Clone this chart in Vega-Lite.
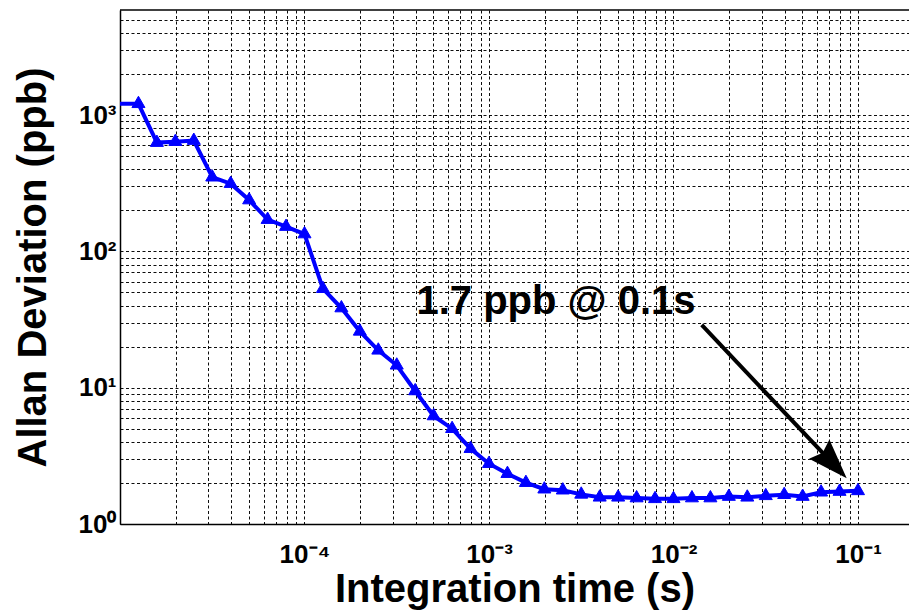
{
  "$schema": "https://vega.github.io/schema/vega-lite/v6.json",
  "width": 789,
  "height": 514,
  "autosize": {"type": "none"},
  "padding": {"left": 120, "top": 10, "right": 0, "bottom": 88},
  "background": "white",
  "config": {
    "view": {"stroke": null},
    "font": "Liberation Sans",
    "axis": {
      "labelFont": "Liberation Sans",
      "labelFontWeight": "bold",
      "labelFontSize": 26,
      "labelColor": "black",
      "labelOverlap": false,
      "labelFlush": false,
      "ticks": false,
      "domainColor": "black",
      "domainWidth": 1.5,
      "grid": true,
      "gridColor": "black",
      "gridDash": [3, 2.5],
      "gridWidth": 1,
      "gridOpacity": 0.95,
      "titleFont": "Liberation Sans",
      "titleFontWeight": "bold",
      "titleFontSize": 40,
      "titleColor": "black"
    }
  },
  "datasets": {
    "adev": [
      {"tau": 0.00001, "adev": 1210},
      {"tau": 0.000012589, "adev": 1210},
      {"tau": 0.000015849, "adev": 628},
      {"tau": 0.000019953, "adev": 638},
      {"tau": 0.000025119, "adev": 650},
      {"tau": 0.000031623, "adev": 350},
      {"tau": 0.000039811, "adev": 314},
      {"tau": 0.000050119, "adev": 238},
      {"tau": 0.000063096, "adev": 171},
      {"tau": 0.000079433, "adev": 152},
      {"tau": 0.0001, "adev": 134},
      {"tau": 0.00012589, "adev": 53.2},
      {"tau": 0.00015849, "adev": 38.4},
      {"tau": 0.00019953, "adev": 25.9},
      {"tau": 0.00025119, "adev": 18.8},
      {"tau": 0.00031623, "adev": 14.6},
      {"tau": 0.00039811, "adev": 9.46},
      {"tau": 0.00050119, "adev": 6.2},
      {"tau": 0.00063096, "adev": 5.0},
      {"tau": 0.00079433, "adev": 3.57},
      {"tau": 0.001, "adev": 2.77},
      {"tau": 0.0012589, "adev": 2.34},
      {"tau": 0.0015849, "adev": 2.01},
      {"tau": 0.0019953, "adev": 1.8},
      {"tau": 0.0025119, "adev": 1.77},
      {"tau": 0.0031623, "adev": 1.65},
      {"tau": 0.0039811, "adev": 1.57},
      {"tau": 0.0050119, "adev": 1.57},
      {"tau": 0.0063096, "adev": 1.55},
      {"tau": 0.0079433, "adev": 1.53},
      {"tau": 0.01, "adev": 1.53},
      {"tau": 0.012589, "adev": 1.55},
      {"tau": 0.015849, "adev": 1.55},
      {"tau": 0.019953, "adev": 1.59},
      {"tau": 0.025119, "adev": 1.57},
      {"tau": 0.031623, "adev": 1.61},
      {"tau": 0.039811, "adev": 1.64},
      {"tau": 0.050119, "adev": 1.59},
      {"tau": 0.063096, "adev": 1.71},
      {"tau": 0.079433, "adev": 1.73},
      {"tau": 0.1, "adev": 1.75}
    ]
  },
  "data": {"name": "adev"},
  "layer": [
    {
      "mark": {"type": "line", "color": "#0000ff", "strokeWidth": 4, "clip": true},
      "encoding": {
        "x": {
          "field": "tau",
          "type": "quantitative",
          "scale": {"type": "log", "domain": [0.00001, 0.189], "nice": false},
          "axis": {
            "title": "Integration time (s)",
            "values": [0.00001, 0.00002, 0.00003, 0.00004, 0.00005, 0.00006, 0.00007, 0.00008, 0.00009,
                       0.0001, 0.0002, 0.0003, 0.0004, 0.0005, 0.0006, 0.0007, 0.0008, 0.0009,
                       0.001, 0.002, 0.003, 0.004, 0.005, 0.006, 0.007, 0.008, 0.009,
                       0.01, 0.02, 0.03, 0.04, 0.05, 0.06, 0.07, 0.08, 0.09, 0.1],
            "labelExpr": "datum.value == 0.0001 ? '10⁻⁴' : datum.value == 0.001 ? '10⁻³' : datum.value == 0.01 ? '10⁻²' : datum.value == 0.1 ? '10⁻¹' : ''",
            "labelPadding": 17,
            "titleY": 77,
            "titleBaseline": "alphabetic"
          }
        },
        "y": {
          "field": "adev",
          "type": "quantitative",
          "scale": {"type": "log", "domain": [1, 5900], "nice": false},
          "axis": {
            "title": "Allan Deviation (ppb)",
            "values": [1, 2, 3, 4, 5, 6, 7, 8, 9, 10, 20, 30, 40, 50, 60, 70, 80, 90,
                       100, 200, 300, 400, 500, 600, 700, 800, 900, 1000, 2000, 3000, 4000, 5000],
            "labelExpr": "datum.value == 1 ? '10⁰' : datum.value == 10 ? '10¹' : datum.value == 100 ? '10²' : datum.value == 1000 ? '10³' : ''",
            "labelPadding": 4,
            "titleAngle": 270,
            "titleX": -75,
            "titleY": 257,
            "titleAlign": "center",
            "titleBaseline": "alphabetic"
          }
        }
      }
    },
    {
      "transform": [{"filter": "datum.tau > 0.000011"}],
      "mark": {
        "type": "point",
        "shape": "M0,-1.1L0.95,0.55L-0.95,0.55Z",
        "size": 188,
        "filled": true,
        "color": "#0000ff",
        "stroke": "#0000ff",
        "strokeWidth": 1,
        "opacity": 1
      },
      "encoding": {
        "x": {"field": "tau", "type": "quantitative"},
        "y": {"field": "adev", "type": "quantitative"}
      }
    },
    {
      "data": {"values": [{}]},
      "mark": {"type": "rule", "color": "black", "strokeWidth": 4},
      "encoding": {
        "x": {"datum": 0.01422},
        "y": {"datum": 28.84},
        "x2": {"datum": 0.0764},
        "y2": {"datum": 2.6}
      }
    },
    {
      "data": {"values": [{}]},
      "mark": {
        "type": "point",
        "shape": "M0,0L-0.7,2L0,1.75L0.7,2Z",
        "size": 1600,
        "angle": 136.6,
        "filled": true,
        "color": "black",
        "opacity": 1
      },
      "encoding": {
        "x": {"datum": 0.08686},
        "y": {"datum": 2.164}
      }
    },
    {
      "data": {"values": [{}]},
      "mark": {
        "type": "text",
        "text": "1.7 ppb @ 0.1s",
        "font": "Liberation Sans",
        "fontWeight": "bold",
        "fontSize": 40,
        "color": "black",
        "align": "center",
        "baseline": "alphabetic"
      },
      "encoding": {
        "x": {"datum": 0.002307},
        "y": {"datum": 35.0}
      }
    },
    {
      "data": {"values": [{}]},
      "mark": {"type": "rule", "color": "black", "strokeWidth": 1.5},
      "encoding": {
        "y": {"datum": 5900}
      }
    }
  ]
}
